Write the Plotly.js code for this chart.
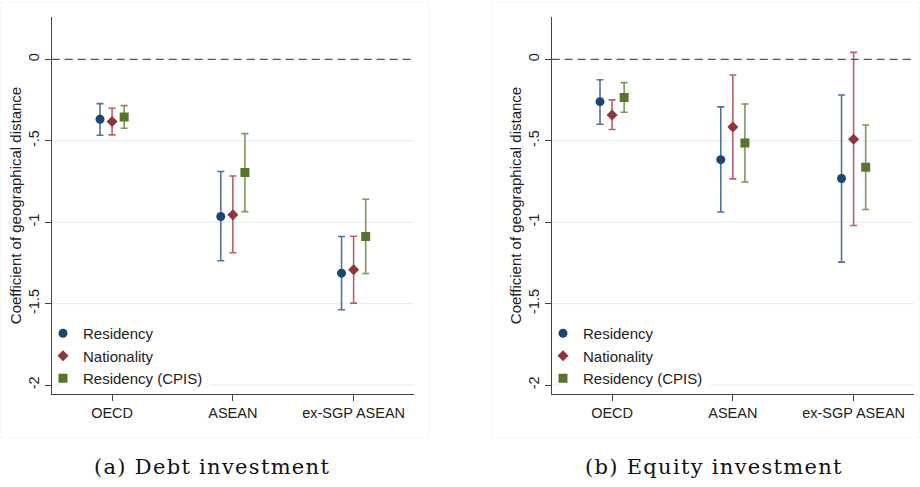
<!DOCTYPE html>
<html>
<head>
<meta charset="utf-8">
<script src="https://cdn.plot.ly/plotly-3.0.1.min.js"></script>
<style>
  html, body { margin: 0; padding: 0; background: #fff; }
  #chart { width: 920px; height: 487px; }
  .annotation-text { letter-spacing: 1.3px; }
</style>
</head>
<body>
<div id="chart"></div>
<script>
// ---- data ----
const categories = ['OECD', 'ASEAN', 'ex-SGP ASEAN'];
const seriesNames = ['Residency', 'Nationality', 'Residency (CPIS)'];
const yTickVals = [0, -0.5, -1, -1.5, -2];
const yTickText = ['0', '-.5', '-1', '-1.5', '-2'];
const captions = ['(a) Debt investment', '(b) Equity investment'];
const yTitle = 'Coefficient of geographical distance';

// Debt investment
const debtResidency = [-0.368, -0.965, -1.313];
const debtResidencyLo = [-0.466, -1.237, -1.538];
const debtResidencyHi = [-0.272, -0.689, -1.088];
const debtNationality = [-0.382, -0.955, -1.292];
const debtNationalityLo = [-0.464, -1.188, -1.497];
const debtNationalityHi = [-0.300, -0.716, -1.086];
const debtCPIS = [-0.354, -0.695, -1.088];
const debtCPISLo = [-0.423, -0.935, -1.315];
const debtCPISHi = [-0.284, -0.456, -0.859];

// Equity investment
const eqResidency = [-0.260, -0.616, -0.732];
const eqResidencyLo = [-0.399, -0.937, -1.245];
const eqResidencyHi = [-0.125, -0.292, -0.219];
const eqNationality = [-0.342, -0.415, -0.491];
const eqNationalityLo = [-0.431, -0.734, -1.020];
const eqNationalityHi = [-0.249, -0.096, 0.043];
const eqCPIS = [-0.235, -0.513, -0.663];
const eqCPISLo = [-0.325, -0.753, -0.922];
const eqCPISHi = [-0.143, -0.274, -0.403];

// ---- styles ----
const offsets = [-0.1, 0, 0.1];
const markerColors = ['#1a476f', '#90353b', '#55752f'];
const barColors = ['#4f7399', '#b5636b', '#7b985a'];
const symbols = ['circle', 'diamond', 'square'];
const sizes = [9, 8.5, 9];
const FONT = 'Liberation Sans, Arial, sans-serif';
const GRID = '#e4eef0';

function mkTrace(i, vals, lo, hi, xa, ya, legendName) {
  const pos = categories.map((c, k) => k + 1 + offsets[i]);
  return {
    type: 'scatter', mode: 'markers',
    x: pos, y: vals,
    xaxis: xa, yaxis: ya,
    name: seriesNames[i],
    legend: legendName,
    marker: { symbol: symbols[i], color: markerColors[i], size: sizes[i], line: { width: 0 } },
    error_y: {
      type: 'data', symmetric: false,
      array: vals.map((v, k) => hi[k] - v),
      arrayminus: vals.map((v, k) => v - lo[k]),
      color: barColors[i], thickness: 1.6, width: 3.5
    },
    hoverinfo: 'x+y'
  };
}

const traces = [
  mkTrace(0, debtResidency, debtResidencyLo, debtResidencyHi, 'x', 'y', 'legend'),
  mkTrace(1, debtNationality, debtNationalityLo, debtNationalityHi, 'x', 'y', 'legend'),
  mkTrace(2, debtCPIS, debtCPISLo, debtCPISHi, 'x', 'y', 'legend'),
  mkTrace(0, eqResidency, eqResidencyLo, eqResidencyHi, 'x2', 'y2', 'legend2'),
  mkTrace(1, eqNationality, eqNationalityLo, eqNationalityHi, 'x2', 'y2', 'legend2'),
  mkTrace(2, eqCPIS, eqCPISLo, eqCPISHi, 'x2', 'y2', 'legend2')
];

const W = 920, H = 487;
const px = v => v / W;
const py = v => (H - v) / H;
const yDom = [py(394), py(17)];

function xAxis(dom) {
  return {
    domain: dom, range: [0.5, 3.5], fixedrange: true,
    tickvals: [1, 2, 3], ticktext: categories,
    ticks: 'outside', ticklen: 6, tickwidth: 1, tickcolor: '#444',
    showline: true, linecolor: '#444', linewidth: 1,
    showgrid: false, zeroline: false,
    tickfont: { family: FONT, size: 14.5, color: '#222' }
  };
}
function yAxis(anchor) {
  return {
    domain: yDom, range: [-2.055, 0.26], anchor: anchor, fixedrange: true,
    tickvals: yTickVals, ticktext: yTickText, tickangle: -90,
    ticks: 'outside', ticklen: 6, tickwidth: 1, tickcolor: '#444',
    showline: true, linecolor: '#444', linewidth: 1,
    showgrid: false, zeroline: false,
    tickfont: { family: FONT, size: 14.5, color: '#222' },
    title: { text: yTitle, font: { family: FONT, size: 15, color: '#222' }, standoff: 0 }
  };
}

function legendCfg(xpx) {
  return {
    x: px(xpx), xanchor: 'left', y: py(317), yanchor: 'top',
    bgcolor: 'rgba(0,0,0,0)', borderwidth: 0,
    traceorder: 'normal',
    font: { family: FONT, size: 15, color: '#222' }
  };
}

// gridlines (the -2 line is interrupted by the legend box)
const shapes = [];
['', '2'].forEach(s => {
  yTickVals.forEach(v => {
    if (v === 0) return;
    const segs = (v === -2) ? [[0, 0.023], [0.437, 1]] : [[0, 1]];
    segs.forEach(sg => shapes.push({
      type: 'line', layer: 'below', xref: 'x' + s + ' domain', yref: 'y' + s,
      x0: sg[0], x1: sg[1], y0: v, y1: v, line: { color: GRID, width: 1 }
    }));
  });
  shapes.push({ type: 'line', xref: 'x' + s + ' domain', yref: 'y' + s, x0: 0, x1: 1, y0: 0, y1: 0,
    line: { color: '#555', width: 1.2, dash: '8px,5px' } });
});
// very faint panel borders
shapes.push({ type: 'rect', layer: 'below', xref: 'paper', yref: 'paper', x0: px(0.5), x1: px(429), y0: py(438), y1: py(2),
  line: { color: '#f6f6f6', width: 1 } });
shapes.push({ type: 'rect', layer: 'below', xref: 'paper', yref: 'paper', x0: px(492), x1: px(919.5), y0: py(438), y1: py(2),
  line: { color: '#f6f6f6', width: 1 } });

const annotations = [
  { text: captions[0], xref: 'paper', yref: 'paper', x: px(92), y: py(467), xanchor: 'left', yanchor: 'middle',
    showarrow: false, font: { family: 'DejaVu Serif, serif', size: 21, color: '#111' } },
  { text: captions[1], xref: 'paper', yref: 'paper', x: px(583), y: py(467), xanchor: 'left', yanchor: 'middle',
    showarrow: false, font: { family: 'DejaVu Serif, serif', size: 21, color: '#111' } }
];

const layout = {
  width: W, height: H,
  margin: { l: 0, r: 0, t: 0, b: 0 },
  paper_bgcolor: '#fff', plot_bgcolor: '#fff',
  showlegend: true,
  hovermode: false,
  xaxis: xAxis([px(51.7), px(414)]),
  yaxis: yAxis('x'),
  xaxis2: Object.assign(xAxis([px(551.7), px(914)]), { anchor: 'y2' }),
  yaxis2: yAxis('x2'),
  legend: legendCfg(43),
  legend2: legendCfg(543),
  shapes: shapes,
  annotations: annotations
};

Plotly.newPlot('chart', traces, layout, { displayModeBar: false, responsive: false });
</script>
</body>
</html>
